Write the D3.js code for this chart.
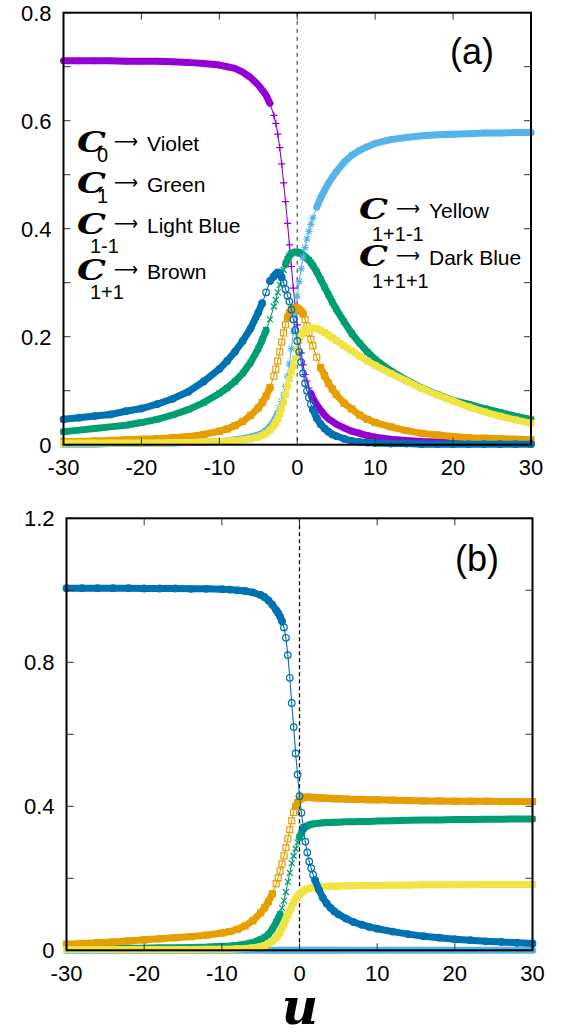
<!DOCTYPE html>
<html><head><meta charset="utf-8">
<script src="https://cdn.jsdelivr.net/npm/d3@7"></script>
<style>html,body{margin:0;padding:0;background:#fff;} svg{display:block;}</style>
</head><body>
<svg id="chart" width="571" height="1036"></svg>
<script>
// ---------- DATA ----------
const uValues = [-30,-28,-26,-24,-22,-20,-18,-16,-14,-12,-10,-9,-8,-7,-6,-5,-4.5,-4,-3.5,-3,
  -2.75,-2.5,-2.25,-2,-1.75,-1.5,-1.25,-1,-0.75,-0.5,-0.25,0,0.25,0.5,0.75,1,1.25,1.5,1.75,2,
  2.5,3,3.5,4,4.5,5,6,7,8,9,10,12,14,16,18,20,22,24,26,28,30];

// Panel (a)
const aViolet = [0.711,0.711,0.711,0.711,0.710,0.710,0.710,0.709,0.708,0.706,0.703,
  0.700,0.697,0.690,0.680,0.666, 0.657,0.647,0.632,0.610,
  0.595,0.575,0.550,0.520,0.485,0.450,0.410,0.370,0.330,0.290,0.255,0.222,0.195,0.170,0.148,0.130,0.118,0.105,0.095,0.086,
  0.074,0.064,0.055,0.048,0.043,0.038, 0.031,0.025,0.021,0.017,0.014,
  0.010,0.008,0.006,0.005,0.004,0.004,0.003,0.003,0.002,0.002];
const aGreen = [0.024,0.027,0.030,0.033,0.036,0.041,0.047,0.055,0.065,0.078,0.095,
  0.105,0.117,0.132,0.152,0.178, 0.194,0.212,0.232,0.256,
  0.268,0.282,0.296,0.310,0.324,0.334,0.343,0.350,0.354,0.356,0.357,0.357,0.356,0.354,0.351,0.348,0.345,0.342,0.337,0.332,
  0.320,0.306,0.292,0.278,0.264,0.251, 0.228,0.206,0.188,0.172,0.158,
  0.137,0.120,0.105,0.093,0.082,0.075,0.067,0.060,0.053,0.047];
const aLightBlue = [0.001,0.001,0.001,0.002,0.002,0.002,0.003,0.003,0.004,0.005,0.006,
  0.007,0.009,0.011,0.014,0.018, 0.021,0.026,0.033,0.043,
  0.050,0.058,0.068,0.080,0.092,0.108,0.127,0.150,0.178,0.210,0.243,0.275,0.302,0.326,0.347,0.365,0.381,0.395,0.408,0.420,
  0.440,0.457,0.471,0.484,0.495,0.505, 0.523,0.536,0.545,0.552,0.558,
  0.565,0.569,0.572,0.574,0.575,0.576,0.577,0.577,0.578,0.578];
const aOrange = [0.006,0.006,0.007,0.008,0.009,0.010,0.011,0.013,0.015,0.019,0.025,
  0.029,0.035,0.043,0.054,0.068, 0.078,0.090,0.106,0.127,
  0.140,0.155,0.172,0.190,0.207,0.222,0.235,0.244,0.250,0.253,0.254,0.253,0.250,0.247,0.242,0.232,0.220,0.207,0.195,0.183,
  0.162,0.143,0.128,0.114,0.103,0.093, 0.077,0.066,0.055,0.047,0.041,
  0.033,0.026,0.021,0.018,0.015,0.013,0.012,0.011,0.010,0.009];
const aYellow = [0.003,0.003,0.003,0.003,0.003,0.003,0.003,0.004,0.004,0.005,0.006,
  0.007,0.008,0.009,0.011,0.014, 0.017,0.021,0.027,0.035,
  0.041,0.048,0.057,0.067,0.079,0.093,0.108,0.122,0.135,0.146,0.160,0.177,0.193,0.203,0.209,0.212,0.214,0.215,0.216,0.216,
  0.215,0.212,0.208,0.203,0.198,0.193, 0.183,0.174,0.164,0.155,0.147,
  0.132,0.118,0.104,0.092,0.081,0.070,0.061,0.053,0.046,0.040];
const aDarkBlue = [0.047,0.050,0.053,0.056,0.062,0.067,0.075,0.085,0.098,0.117,0.140,
  0.155,0.172,0.192,0.215,0.245, 0.262,0.282,0.303,0.312,
  0.316,0.319,0.318,0.310,0.300,0.288,0.276,0.265,0.250,0.232,0.212,0.192,0.172,0.153,0.132,0.114,0.100,0.087,0.075,0.065,
  0.049,0.038,0.030,0.024,0.019,0.016, 0.011,0.007,0.005,0.004,0.003,
  0.002,0.002,0.001,0.001,0.001,0.001,0.001,0.001,0.001,0.001];

// Panel (b)
const bGreen = [0.005,0.005,0.005,0.006,0.006,0.006,0.007,0.007,0.008,0.009,0.011,
  0.012,0.014,0.017,0.022,0.030, 0.036,0.044,0.058,0.078,
  0.088,0.100,0.118,0.138,0.162,0.190,0.215,0.242,0.262,0.282,0.300,0.314,0.326,0.337,0.342,0.346,0.348,0.350,0.351,0.352,
  0.353,0.354,0.355,0.355,0.356,0.356, 0.357,0.357,0.358,0.358,0.359,
  0.360,0.361,0.362,0.362,0.363,0.363,0.364,0.364,0.365,0.365];
const bLightBlue = [0,0,0,0,0,0,0,0,0,0,0, 0,0,0,0,0, 0,0,0,0,
  0,0,0,0,0,0,0,0,0,0,0,0,0,0,0,0,0,0,0,0,
  0,0,0,0,0,0, 0,0,0,0,0, 0,0,0,0,0,0,0,0,0,0];
const bOrange = [0.017,0.019,0.021,0.023,0.026,0.029,0.032,0.035,0.038,0.042,0.048,
  0.052,0.058,0.068,0.082,0.104, 0.118,0.135,0.157,0.185,
  0.201,0.220,0.240,0.262,0.285,0.310,0.335,0.360,0.383,0.400,0.410,0.418,0.422,0.424,0.425,0.425,0.425,0.425,0.424,0.424,
  0.423,0.423,0.422,0.422,0.421,0.421, 0.420,0.419,0.419,0.418,0.418,
  0.417,0.416,0.415,0.415,0.414,0.414,0.414,0.413,0.413,0.413];
const bYellow = [0.002,0.002,0.002,0.002,0.002,0.002,0.002,0.002,0.002,0.003,0.003,
  0.003,0.004,0.005,0.007,0.010, 0.013,0.018,0.025,0.035,
  0.042,0.050,0.060,0.072,0.085,0.098,0.110,0.122,0.133,0.143,0.150,0.156,0.161,0.165,0.168,0.170,0.172,0.173,0.174,0.175,
  0.176,0.177,0.177,0.178,0.178,0.178, 0.179,0.179,0.180,0.180,0.180,
  0.181,0.181,0.182,0.182,0.182,0.182,0.183,0.183,0.183,0.183];
const bDarkBlue = [1.006,1.006,1.006,1.006,1.006,1.005,1.005,1.005,1.004,1.004,1.003,
  1.002,1.000,0.998,0.994,0.987, 0.981,0.972,0.960,0.945,
  0.937,0.927,0.914,0.897,0.868,0.820,0.757,0.687,0.620,0.547,0.488,0.428,0.382,0.341,0.302,0.272,0.247,0.228,0.210,0.195,
  0.168,0.146,0.130,0.118,0.108,0.100, 0.088,0.078,0.071,0.065,0.060,
  0.052,0.045,0.039,0.035,0.031,0.028,0.025,0.023,0.021,0.019];

const xTicks = [-30,-20,-10,0,10,20,30];
const aYTicks = [0,0.1,0.2,0.3,0.4,0.5,0.6,0.7,0.8];
const aYLabels = [0,0.2,0.4,0.6,0.8];
const bYTicks = [0,0.2,0.4,0.6,0.8,1.0,1.2];
const bYLabels = [0,0.4,0.8,1.2];

const legendLeft = [
  {sub:"0", name:"Violet"},
  {sub:"1", name:"Green"},
  {sub:"1-1", name:"Light Blue"},
  {sub:"1+1", name:"Brown"}
];
const legendRight = [
  {sub:"1+1-1", name:"Yellow"},
  {sub:"1+1+1", name:"Dark Blue"}
];

// ---------- STYLE ----------
const COL = {violet:"#9400d3", green:"#009e73", lblue:"#56b4e9", orange:"#e69f00", yellow:"#f0e442", dblue:"#0072b2"};
const svg = d3.select("#chart");
const FONT = "'Liberation Sans', Arial, Helvetica, sans-serif";

function marker(g, type, color, px, py) {
  const t = `translate(${px},${py})`;
  if (type === "plus") {
    g.append("path").attr("d","M-3.6,0H3.6M0,-3.6V3.6").attr("transform",t).attr("stroke",color).attr("stroke-width",1.2).attr("fill","none");
  } else if (type === "cross") {
    g.append("path").attr("d","M-3,-3L3,3M-3,3L3,-3").attr("transform",t).attr("stroke",color).attr("stroke-width",1.2).attr("fill","none");
  } else if (type === "star") {
    g.append("path").attr("d","M-3.6,0H3.6M0,-3.6V3.6M-2.8,-2.8L2.8,2.8M-2.8,2.8L2.8,-2.8").attr("transform",t).attr("stroke",color).attr("stroke-width",1.1).attr("fill","none");
  } else if (type === "osq") {
    g.append("rect").attr("x",-3).attr("y",-3).attr("width",6).attr("height",6).attr("transform",t).attr("stroke",color).attr("stroke-width",1.2).attr("fill","none");
  } else if (type === "fsq") {
    g.append("rect").attr("x",-3.4).attr("y",-3.4).attr("width",6.8).attr("height",6.8).attr("transform",t).attr("fill",color);
  } else if (type === "ocirc") {
    g.append("circle").attr("r",3.3).attr("transform",t).attr("stroke",color).attr("stroke-width",1.2).attr("fill","none");
  }
}

function drawSeries(g, x, y, vals, color, type) {
  const pts = uValues.map((u, i) => [x(u), y(vals[i])]);
  const sg = g.append("g");
  let run = [];
  const runs = [];
  for (let i = 0; i < pts.length - 1; i++) {
    const du = Math.abs(uValues[i+1] - uValues[i]);
    const slope = Math.abs(pts[i+1][1] - pts[i][1]) / du;
    if (slope < 20) {
      if (run.length === 0) run.push(pts[i]);
      run.push(pts[i+1]);
    } else {
      if (run.length) runs.push(run);
      run = [];
    }
  }
  if (run.length) runs.push(run);
  runs.forEach(r => {
    sg.append("path").attr("d", d3.line()(r)).attr("fill","none")
      .attr("stroke", color).attr("stroke-width", 7)
      .attr("stroke-linecap","round").attr("stroke-linejoin","round");
  });
  sg.append("path").attr("d", d3.line()(pts)).attr("fill","none")
    .attr("stroke", color).attr("stroke-width", 1.1);
  pts.forEach(p => marker(sg, type, color, p[0], p[1]));
}

function panel(cfg) {
  const x = d3.scaleLinear().domain([-30, 30]).range([cfg.left, cfg.right]);
  const y = d3.scaleLinear().domain([0, cfg.ymax]).range([cfg.bottom, cfg.top]);
  const g = svg.append("g");
  g.append("line").attr("x1", x(0)).attr("x2", x(0)).attr("y1", cfg.top).attr("y2", cfg.bottom)
    .attr("stroke", cfg.dashColor).attr("stroke-width", cfg.dashWidth).attr("stroke-dasharray", cfg.dash);
  cfg.series.forEach(s => drawSeries(g, x, y, s.vals, s.color, s.type));
  const tl = 7;
  xTicks.forEach(t => {
    g.append("line").attr("x1", x(t)).attr("x2", x(t)).attr("y1", cfg.bottom).attr("y2", cfg.bottom - tl).attr("stroke","#333").attr("stroke-width",1);
    g.append("line").attr("x1", x(t)).attr("x2", x(t)).attr("y1", cfg.top).attr("y2", cfg.top + tl).attr("stroke","#333").attr("stroke-width",1);
  });
  cfg.yTicks.forEach(t => {
    g.append("line").attr("x1", cfg.left).attr("x2", cfg.left + tl).attr("y1", y(t)).attr("y2", y(t)).attr("stroke","#333").attr("stroke-width",1);
    g.append("line").attr("x1", cfg.right).attr("x2", cfg.right - tl).attr("y1", y(t)).attr("y2", y(t)).attr("stroke","#333").attr("stroke-width",1);
  });
  g.append("rect").attr("x", cfg.left).attr("y", cfg.top).attr("width", cfg.right - cfg.left).attr("height", cfg.bottom - cfg.top)
    .attr("fill","none").attr("stroke","#000").attr("stroke-width",2);
  xTicks.forEach(t => {
    g.append("text").attr("x", x(t)).attr("y", cfg.bottom + cfg.xLabelDy).attr("text-anchor","middle")
      .attr("font-family", FONT).attr("font-size", 22).attr("fill","#000").text(String(t));
  });
  cfg.yLabels.forEach(t => {
    g.append("text").attr("x", cfg.left - 12).attr("y", y(t)).attr("dy","0.36em").attr("text-anchor","end")
      .attr("font-family", FONT).attr("font-size", 22).attr("fill","#000").text(String(t));
  });
  g.append("text").attr("x", cfg.tagX).attr("y", cfg.tagY)
    .attr("font-family", "'Liberation Sans Narrow', 'Liberation Sans', Arial, sans-serif")
    .attr("font-size", 36).attr("fill","#000").text(cfg.tag);
  return {x, y, g};
}

panel({
  left: 63.5, right: 531, top: 12.7, bottom: 444.7, ymax: 0.8,
  yTicks: aYTicks, yLabels: aYLabels, xLabelDy: 30,
  dashColor: "#777", dashWidth: 1.5, dash: "4,4",
  tag: "(a)", tagX: 450, tagY: 64,
  series: [
    {vals: aViolet, color: COL.violet, type: "plus"},
    {vals: aGreen, color: COL.green, type: "cross"},
    {vals: aLightBlue, color: COL.lblue, type: "star"},
    {vals: aOrange, color: COL.orange, type: "osq"},
    {vals: aYellow, color: COL.yellow, type: "fsq"},
    {vals: aDarkBlue, color: COL.dblue, type: "ocirc"}
  ]
});

panel({
  left: 66.5, right: 532.5, top: 518.3, bottom: 950.3, ymax: 1.2,
  yTicks: bYTicks, yLabels: bYLabels, xLabelDy: 31,
  dashColor: "#000", dashWidth: 1.3, dash: "4,3",
  tag: "(b)", tagX: 455, tagY: 571,
  series: [
    {vals: bGreen, color: COL.green, type: "cross"},
    {vals: bLightBlue, color: COL.lblue, type: "star"},
    {vals: bOrange, color: COL.orange, type: "osq"},
    {vals: bYellow, color: COL.yellow, type: "fsq"},
    {vals: bDarkBlue, color: COL.dblue, type: "ocirc"}
  ]
});

// ---------- LEGENDS ----------
function legendEntry(cx, baseY, subX, subDy, arrowX, nameX, item) {
  const g = svg.append("g");
  g.append("text").attr("transform", `translate(${cx},${baseY + 1}) scale(1.3,1)`)
    .attr("font-family","'DejaVu Serif', serif").attr("font-style","italic").attr("font-weight","bold")
    .attr("font-size", 28).attr("fill","#000").text("C");
  g.append("text").attr("x", subX).attr("y", baseY + subDy)
    .attr("font-family", FONT).attr("font-size", 20).attr("fill","#000").text(item.sub);
  g.append("text").attr("x", arrowX).attr("y", baseY - 3)
    .attr("font-family","'DejaVu Sans', sans-serif").attr("font-size", 20)
    .attr("textLength", 24).attr("lengthAdjust","spacingAndGlyphs").attr("fill","#000").text("\u27F6");
  g.append("text").attr("x", nameX).attr("y", baseY)
    .attr("font-family", FONT).attr("font-size", 21).attr("fill","#000").text(item.name);
}
const leftBase = [151, 192, 233, 279];
const leftSubX = [97, 97, 90, 90];
const leftSubDy = [11, 11, 20, 20];
legendLeft.forEach((it, i) => legendEntry(77, leftBase[i], leftSubX[i], leftSubDy[i], 114, 147, it));
const rightBase = [218, 265];
legendRight.forEach((it, i) => legendEntry(359, rightBase[i], 372, 23, 396, 429, it));

// axis title
svg.append("text").attr("x", 300).attr("y", 1024).attr("text-anchor","middle")
  .attr("font-family","'DejaVu Serif', serif").attr("font-style","italic").attr("font-weight","bold")
  .attr("font-size", 50).attr("fill","#000").text("u");
</script>
</body></html>
